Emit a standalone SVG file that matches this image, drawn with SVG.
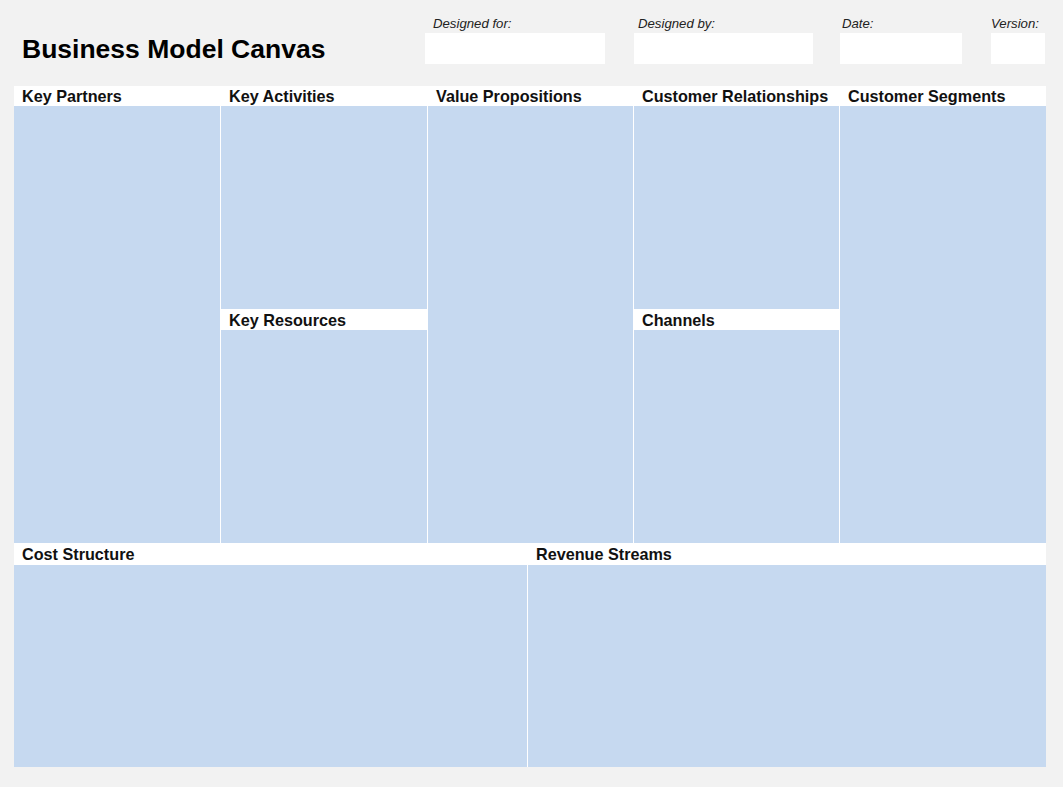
<svg xmlns="http://www.w3.org/2000/svg" width="1063" height="787" viewBox="0 0 1063 787">
<style>
.blue{fill:#c6d9f0}
.hdr{fill:#ffffff}
.div{stroke:#ffffff;stroke-width:1}
.lbl{font-family:"Liberation Sans",Arial,sans-serif;font-weight:bold;font-size:16.2px;fill:#111}
.meta{font-family:"Liberation Sans",Arial,sans-serif;font-style:italic;font-size:13.2px;fill:#222}
.box{fill:#ffffff}
</style>
<rect x="0" y="0" width="1063" height="787" fill="#f2f2f2"/>
<g id="title">
<text x="22" y="58" font-family="'Liberation Sans',Arial,sans-serif" font-weight="bold" font-size="26.5" fill="#000">Business Model Canvas</text>
</g>
<g id="designed-for"><text class="meta" x="433" y="28">Designed for:</text><rect class="box" x="425" y="33" width="180" height="31"/></g>
<g id="designed-by"><text class="meta" x="638" y="28">Designed by:</text><rect class="box" x="634" y="33" width="179" height="31"/></g>
<g id="date"><text class="meta" x="842" y="28">Date:</text><rect class="box" x="840" y="33" width="122" height="31"/></g>
<g id="version"><text class="meta" x="991" y="28">Version:</text><rect class="box" x="991" y="33" width="54" height="31"/></g>

<g id="key-partners"><rect class="blue" x="14" y="86" width="206" height="457"/><rect class="hdr" x="14" y="86" width="206" height="20"/><text class="lbl" x="22" y="102">Key Partners</text></g>
<g id="key-activities"><rect class="blue" x="221" y="86" width="206" height="223"/><rect class="hdr" x="221" y="86" width="206" height="20"/><text class="lbl" x="229" y="102">Key Activities</text></g>
<g id="key-resources"><rect class="blue" x="221" y="309" width="206" height="234"/><rect class="hdr" x="221" y="309" width="206" height="21"/><text class="lbl" x="229" y="326">Key Resources</text></g>
<g id="value-propositions"><rect class="blue" x="428" y="86" width="205" height="457"/><rect class="hdr" x="428" y="86" width="205" height="20"/><text class="lbl" x="436" y="102">Value Propositions</text></g>
<g id="customer-relationships"><rect class="blue" x="634" y="86" width="205" height="223"/><rect class="hdr" x="634" y="86" width="205" height="20"/><text class="lbl" x="642" y="102">Customer Relationships</text></g>
<g id="channels"><rect class="blue" x="634" y="309" width="205" height="234"/><rect class="hdr" x="634" y="309" width="205" height="21"/><text class="lbl" x="642" y="326">Channels</text></g>
<g id="customer-segments"><rect class="blue" x="840" y="86" width="206" height="457"/><rect class="hdr" x="840" y="86" width="206" height="20"/><text class="lbl" x="848" y="102">Customer Segments</text></g>
<g id="cost-structure"><rect class="blue" x="14" y="544" width="513" height="223"/><rect class="hdr" x="14" y="544" width="513" height="21"/><text class="lbl" x="22" y="560">Cost Structure</text></g>
<g id="revenue-streams"><rect class="blue" x="528" y="544" width="518" height="223"/><rect class="hdr" x="528" y="544" width="518" height="21"/><text class="lbl" x="536" y="560">Revenue Streams</text></g>

<g id="connectors">
<line class="div" x1="220.5" y1="86" x2="220.5" y2="543"/>
<line class="div" x1="427.5" y1="86" x2="427.5" y2="543"/>
<line class="div" x1="633.5" y1="86" x2="633.5" y2="543"/>
<line class="div" x1="839.5" y1="86" x2="839.5" y2="543"/>
<line class="div" x1="527.5" y1="544" x2="527.5" y2="767"/>
<line class="div" x1="14" y1="543.5" x2="1046" y2="543.5"/>
</g>
</svg>
